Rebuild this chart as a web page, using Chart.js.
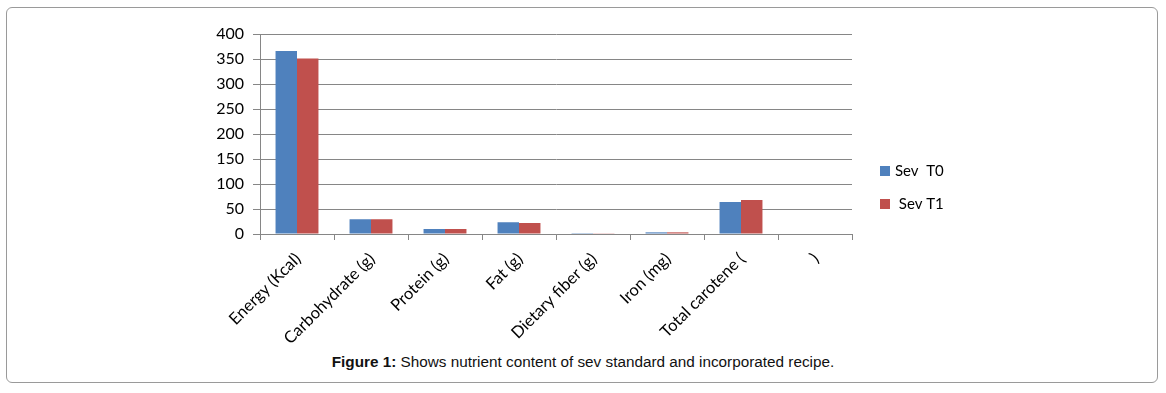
<!DOCTYPE html>
<html><head><meta charset="utf-8">
<script src="https://cdn.jsdelivr.net/npm/chart.js@4"></script>
<style>
html,body{margin:0;padding:0;background:#fff;}
#wrap{position:relative;width:1166px;height:393px;}
#frame{position:absolute;left:6px;top:7px;width:1150px;height:374px;border:1px solid #9a9a9a;border-radius:6px;box-sizing:content-box;}
#cv{position:absolute;left:0;top:0;}
#cap{position:absolute;left:0;width:1166px;top:353px;text-align:center;font-family:"Liberation Sans",Arial,sans-serif;font-size:15.3px;color:#111;}
</style></head>
<body><div id="wrap">
<div id="frame"></div>
<canvas id="cv" width="1166" height="350"></canvas>
<div id="cap"><b>Figure 1:</b> Shows nutrient content of sev standard and incorporated recipe.</div>
</div>
<script>
const categories = ["Energy (Kcal)","Carbohydrate (g)","Protein (g)","Fat (g)","Dietary fiber (g)","Iron (mg)","Total carotene (",")"];
const seriesNames = ["Sev  T0"," Sev T1"];
const sevT0 = [366, 29.5, 10, 23.5, 0.3, 3.3, 64, 0];
const sevT1 = [351, 29.5, 10, 22, 0.6, 3.3, 68, 0];
const yTicks = [0,50,100,150,200,250,300,350,400];
const colors = ["#4F81BD","#C0504D"];

const legendPlugin = {
  id:'customLegend',
  afterDraw(chart){
    const ctx = chart.ctx;
    ctx.save();
    ctx.font = '15px Lato, "Liberation Sans", sans-serif';
    ctx.textBaseline = 'middle';
    const ys = [171, 204];
    chart.data.datasets.forEach((ds,i)=>{
      ctx.fillStyle = ds.backgroundColor;
      ctx.fillRect(880, ys[i]-5, 10, 10);
      ctx.fillStyle = '#000';
      ctx.fillText(ds.label, 895, ys[i]);
    });
    ctx.restore();
  }
};

new Chart(document.getElementById('cv'), {
  type:'bar',
  data:{
    labels: categories,
    datasets:[
      {label:seriesNames[0], data:sevT0, backgroundColor:colors[0], borderWidth:0},
      {label:seriesNames[1], data:sevT1, backgroundColor:colors[1], borderWidth:0}
    ]
  },
  options:{
    responsive:false,
    animation:false,
    devicePixelRatio:1,
    layout:{padding:{left:0,right:314,top:34,bottom:0}},
    datasets:{bar:{categoryPercentage:0.58,barPercentage:1}},
    plugins:{legend:{display:false},tooltip:{enabled:false}},
    scales:{
      x:{
        grid:{drawOnChartArea:false,color:'#868686',tickLength:6,offset:true},
        border:{color:'#868686',width:1},
        ticks:{maxRotation:45,minRotation:45,autoSkip:false,color:'#000',padding:9,labelOffset:1,
          font:{family:'Lato, "Liberation Sans", sans-serif',size:16.5}},
        afterFit(s){s.height=116;}
      },
      y:{
        min:0,max:400,
        afterBuildTicks(s){s.ticks = yTicks.map(v=>({value:v}));},
        grid:{color:'#868686',tickLength:7},
        border:{color:'#868686',width:1},
        ticks:{color:'#000',padding:9,font:{family:'Lato, "Liberation Sans", sans-serif',size:16}},
        afterFit(s){s.width=260;}
      }
    }
  },
  plugins:[legendPlugin]
});
</script>
</body></html>
